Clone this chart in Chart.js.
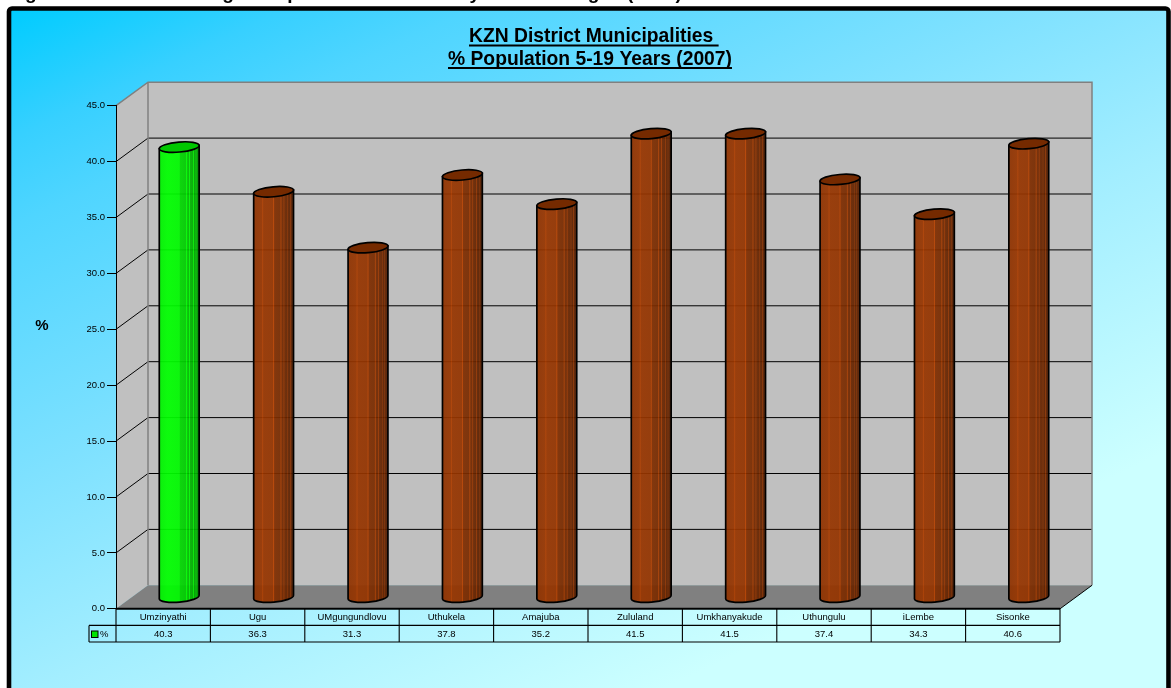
<!DOCTYPE html>
<html lang="en">
<head>
  <meta charset="UTF-8">
  <title>KZN District Municipalities</title>
  <style>
    html, body { margin: 0; padding: 0; background: #fff; overflow: hidden; }
    canvas { display: block; }
  </style>
  <script src="https://cdn.jsdelivr.net/npm/chart.js"></script>
</head>
<body>
  <canvas id="grafico" width="1171" height="688"></canvas>

  <script>
    const municipios = ['Umzinyathi', 'Ugu', 'UMgungundlovu', 'Uthukela', 'Amajuba', 'Zululand', 'Umkhanyakude', 'Uthungulu', 'iLembe', 'Sisonke'];
    const valores = [40.3, 36.3, 31.3, 37.8, 35.2, 41.5, 41.5, 37.4, 34.3, 40.6];
    const colores = ['#00e400', '#863000', '#863000', '#863000', '#863000', '#863000', '#863000', '#863000', '#863000', '#863000'];
    const titulo = ['KZN District Municipalities ', '% Population 5-19 Years (2007)'];

    const FUENTE = '"Liberation Sans", Arial, sans-serif';
    const FONDO_X = 32;     // depth of the 3D box
    const FONDO_Y = 23.5;

    // light and shade across a cylinder, position and brightness factor
    const bandas = [[0, 1.06], [.2, 1.12], [.225, 1.3], [.25, 1.12], [.48, 1.1], [.5, 1.4], [.525, .95], [.66, .9], [.685, 1.25], [.71, .86],
      [.74, .83], [.76, 1.2], [.78, .8], [.84, .76], [.855, 1.1], [.875, .73], [.905, .7], [.92, 1.05], [.94, .68], [1, .62]];

    function tono(hex, f) {
      let n = parseInt(hex.slice(1), 16);
      let r = Math.min(255, (n >> 16) * f);
      let g = Math.min(255, ((n >> 8) & 255) * f);
      let b = Math.min(255, (n & 255) * f);
      return `rgb(${r | 0},${g | 0},${b | 0})`;
    }

    // bar element that paints itself as a cylinder standing mid-depth in the box
    class Cilindro extends Chart.BarElement {
      draw(ctx) {
        let { x, y, base, width } = this.getProps(['x', 'y', 'base', 'width']);
        let color = this.options.backgroundColor;
        let cx = x + FONDO_X / 2;
        let yTop = y - 11.2;
        let yBase = base - 11.2;
        let rx = width / 2;
        let ry = 5;
        let giro = -5 * Math.PI / 180;
        let dx = rx * Math.cos(giro);
        let dy = rx * Math.sin(giro);

        let grad = ctx.createLinearGradient(cx - dx, 0, cx + dx, 0);
        bandas.forEach(b => grad.addColorStop(b[0], tono(color, b[1])));

        ctx.save();
        ctx.beginPath();
        ctx.moveTo(cx - dx, yTop - dy);
        ctx.lineTo(cx - dx, yBase - dy);
        ctx.ellipse(cx, yBase, rx, ry, giro, Math.PI, 0, true);
        ctx.lineTo(cx + dx, yTop + dy);
        ctx.closePath();
        ctx.globalAlpha = .93;
        ctx.fillStyle = grad;
        ctx.fill();
        ctx.globalAlpha = 1;
        ctx.strokeStyle = '#000';
        ctx.lineWidth = 1.7;
        ctx.stroke();

        ctx.beginPath();
        ctx.ellipse(cx, yTop, rx, ry, giro, 0, Math.PI * 2);
        ctx.fillStyle = tono(color, .88);
        ctx.fill();
        ctx.stroke();
        ctx.restore();
      }
    }
    Cilindro.id = 'cilindro';

    class ControladorCilindros extends Chart.BarController {}
    ControladorCilindros.id = 'cilindros';
    ControladorCilindros.defaults = { ...Chart.BarController.defaults, dataElementType: 'cilindro' };
    ControladorCilindros.overrides = Chart.BarController.overrides;
    Chart.register(Cilindro, ControladorCilindros);

    function dibujarFondo(ctx) {
      // white page, then the black frame with its diagonal blue fill
      ctx.fillStyle = '#fff';
      ctx.fillRect(0, 0, 1171, 688);

      ctx.fillStyle = '#000';
      ctx.font = 'bold 19px ' + FUENTE;
      ctx.textAlign = 'left';
      ctx.textBaseline = 'alphabetic';
      [['Figure', 8], ['Percentage', 142], ['Population', 263], ['by', 458], ['Age', 574], ['(2007)', 627]].forEach(p => {
        ctx.fillText(p[0], p[1], -1.5);
      });

      let grad = ctx.createLinearGradient(11, 11, 11 + 396, 11 + 840);
      [[0, 0], [.125, .27], [.21, .39], [.46, .62], [.67, .8], [.96, 1], [1, 1]].forEach(s => {
        let verde = 204 + 51 * Math.pow(s[1], 1.8);
        grad.addColorStop(s[0], `rgb(${204 * s[1] | 0},${verde | 0},255)`);
      });
      ctx.beginPath();
      ctx.roundRect(9, 8.5, 1159.5, 700, 3);
      ctx.fillStyle = grad;
      ctx.fill();
      ctx.lineWidth = 4.6;
      ctx.strokeStyle = '#000';
      ctx.stroke();
    }

    function dibujarCaja(ctx, chart) {
      let { left, right, bottom, top } = chart.chartArea;
      let yEje = chart.scales.y;

      ctx.lineJoin = 'miter';
      // back wall and left wall
      ctx.fillStyle = '#c0c0c0';
      ctx.fillRect(left + FONDO_X, top - FONDO_Y, right - left, bottom - top);
      ctx.beginPath();
      ctx.moveTo(left, top);
      ctx.lineTo(left + FONDO_X, top - FONDO_Y);
      ctx.lineTo(left + FONDO_X, bottom - FONDO_Y);
      ctx.lineTo(left, bottom);
      ctx.closePath();
      ctx.fill();

      // floor
      ctx.fillStyle = '#808080';
      ctx.beginPath();
      ctx.moveTo(left, bottom);
      ctx.lineTo(right, bottom);
      ctx.lineTo(right + FONDO_X, bottom - FONDO_Y);
      ctx.lineTo(left + FONDO_X, bottom - FONDO_Y);
      ctx.closePath();
      ctx.fill();

      // gridlines run along the left wall and across the back
      ctx.strokeStyle = '#000';
      ctx.lineWidth = 1;
      yEje.ticks.forEach(t => {
        if (t.value === 0 || t.value === 45) return;
        let py = yEje.getPixelForValue(t.value);
        ctx.beginPath();
        ctx.moveTo(left, py);
        ctx.lineTo(left + FONDO_X, py - FONDO_Y);
        ctx.lineTo(right + FONDO_X, py - FONDO_Y);
        ctx.stroke();
      });

      // grey edges of the box
      ctx.strokeStyle = '#808080';
      ctx.lineWidth = 1.5;
      ctx.beginPath();
      ctx.moveTo(left, top);
      ctx.lineTo(left + FONDO_X, top - FONDO_Y);
      ctx.lineTo(right + FONDO_X, top - FONDO_Y);
      ctx.lineTo(right + FONDO_X, bottom - FONDO_Y);
      ctx.moveTo(left + FONDO_X, top - FONDO_Y);
      ctx.lineTo(left + FONDO_X, bottom - FONDO_Y);
      ctx.stroke();

      // dark slanted edge at the front right of the floor
      ctx.strokeStyle = '#000';
      ctx.lineWidth = 1;
      ctx.beginPath();
      ctx.moveTo(right, bottom);
      ctx.lineTo(right + FONDO_X, bottom - FONDO_Y);
      ctx.stroke();
    }

    function dibujarTextos(ctx) {
      ctx.fillStyle = '#000';
      ctx.strokeStyle = '#000';
      ctx.font = 'bold 19.3px ' + FUENTE;
      ctx.textAlign = 'left';
      ctx.textBaseline = 'alphabetic';
      ctx.fillText(titulo[0], 469, 42.3);
      ctx.fillText(titulo[1], 448, 65);
      ctx.lineWidth = 2;
      ctx.beginPath();
      ctx.moveTo(469, 45.5);
      ctx.lineTo(469 + ctx.measureText(titulo[0]).width, 45.5);
      ctx.moveTo(448, 68);
      ctx.lineTo(448 + ctx.measureText(titulo[1]).width, 68);
      ctx.stroke();

      // axis caption sits level, not rotated
      ctx.font = 'bold 15px ' + FUENTE;
      ctx.textAlign = 'center';
      ctx.textBaseline = 'middle';
      ctx.fillText('%', 42, 325.5);
    }

    function dibujarTabla(ctx, chart) {
      let { left, right, bottom } = chart.chartArea;
      let xEje = chart.scales.x;
      let paso = (right - left) / municipios.length;
      let fila1 = bottom + 16.6;
      let fila2 = bottom + 33.2;

      ctx.strokeStyle = '#000';
      ctx.lineWidth = 1.1;
      ctx.beginPath();
      ctx.moveTo(89, fila1);
      ctx.lineTo(right, fila1);
      ctx.moveTo(89, fila2);
      ctx.lineTo(right, fila2);
      ctx.moveTo(89, fila1);
      ctx.lineTo(89, fila2);
      for (let i = 0; i <= municipios.length; i++) {
        let px = i < municipios.length ? xEje.getPixelForValue(i) - paso / 2 : right;
        ctx.moveTo(px, bottom);
        ctx.lineTo(px, fila2);
      }
      ctx.stroke();

      // front edge of the floor
      ctx.lineWidth = 2;
      ctx.beginPath();
      ctx.moveTo(left, bottom);
      ctx.lineTo(right, bottom);
      ctx.stroke();

      // legend key of the table
      ctx.lineWidth = 1;
      ctx.fillStyle = colores[0];
      ctx.fillRect(91.5, 631, 6.5, 6.5);
      ctx.strokeRect(91.5, 631, 6.5, 6.5);
      ctx.fillStyle = '#000';
      ctx.font = '9.5px ' + FUENTE;
      ctx.textAlign = 'left';
      ctx.textBaseline = 'middle';
      ctx.fillText('%', 100, 634);
    }

    const escena = {
      id: 'escena',
      beforeDraw(chart) {
        let ctx = chart.ctx;
        ctx.save();
        dibujarFondo(ctx);
        dibujarCaja(ctx, chart);
        dibujarTextos(ctx);
        dibujarTabla(ctx, chart);
        ctx.restore();
      }
    };

    new Chart(document.getElementById('grafico').getContext('2d'), {
      type: 'cilindros',
      data: {
        labels: municipios,
        datasets: [{
          label: '%',
          data: valores,
          backgroundColor: colores,
          barThickness: 40
        }]
      },
      options: {
        responsive: false,
        animation: false,
        events: [],
        layout: { padding: { top: 105.7, right: 111, left: 0, bottom: 0 } },
        plugins: {
          legend: { display: false },
          title: { display: false },
          tooltip: { enabled: false }
        },
        scales: {
          x: {
            offset: true,
            border: { display: false },
            grid: { display: false, drawTicks: false },
            afterFit(scale) { scale.height = 79.2; },
            ticks: {
              autoSkip: false,
              maxRotation: 0,
              padding: 0,
              color: '#000',
              font: { family: FUENTE, size: 9.5, lineHeight: 1.78 },
              callback(v, i) { return [municipios[i], valores[i].toFixed(1)]; }
            }
          },
          y: {
            min: 0,
            max: 45,
            border: { color: '#000', width: 1 },
            grid: { drawOnChartArea: false, color: '#000', tickLength: 9 },
            afterFit(scale) { scale.width = 116; },
            ticks: {
              stepSize: 5,
              padding: 2,
              color: '#000',
              font: { family: FUENTE, size: 9.5 },
              callback(v) { return v.toFixed(1); }
            }
          }
        }
      },
      plugins: [escena]
    });
  </script>
</body>
</html>
